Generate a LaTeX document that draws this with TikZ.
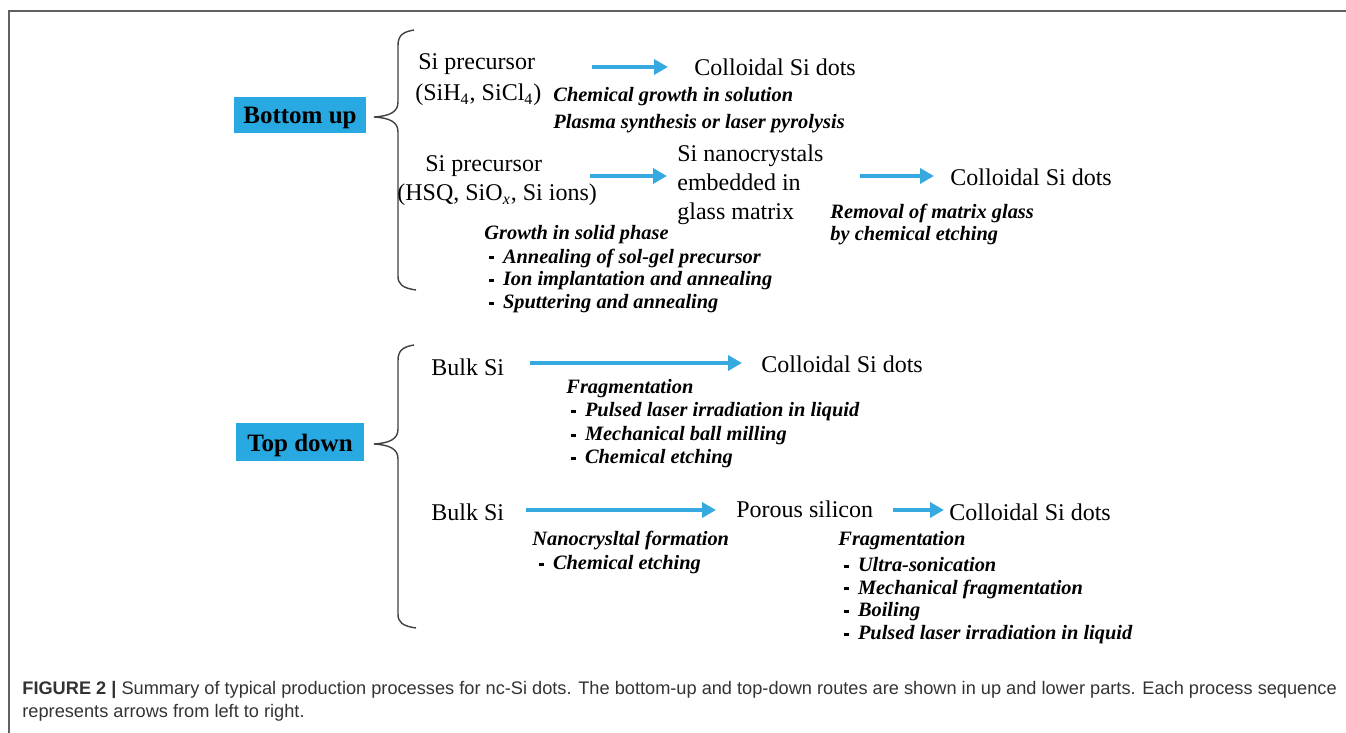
\documentclass[tikz,border=0pt]{standalone}
\usepackage{fontspec}
\setmainfont{Liberation Serif}
\newfontfamily\capfont{Liberation Sans}
\usetikzlibrary{arrows.meta}
\definecolor{boxblue}{HTML}{29A9E1}
\definecolor{arrblue}{HTML}{36A9E1}
\definecolor{framegray}{HTML}{606060}
\definecolor{captxt}{HTML}{333333}
\newcommand{\bul}{\makebox[6.8pt][l]{\rule[0.45ex]{2.4pt}{1.4pt}}}
\begin{document}
\begin{tikzpicture}[x=0.5pt,y=-0.5pt,
  main/.style={anchor=west,inner sep=0pt,font=\fontsize{12}{14}\selectfont},
  stack/.style={anchor=north west,inner sep=0pt,align=left,font=\fontsize{12}{14.5}\selectfont},
  note/.style={anchor=west,inner sep=0pt,font=\fontsize{10.2}{12}\selectfont\bfseries\itshape},
  catbox/.style={fill=boxblue,draw=none,minimum width=66pt,minimum height=18pt,inner sep=0pt,text height=9pt,text depth=0pt,font=\fontsize{12.5}{14}\selectfont\bfseries},
  arr/.style={draw=arrblue,line width=2.4pt,-{Triangle[length=7pt,width=7.5pt]}},
  brace/.style={draw=black!75,line width=0.7pt},
  captext/.style={anchor=west,inner sep=0pt,font=\capfont\fontsize{9.1}{10}\selectfont,text=captxt},
]
\useasboundingbox (0,0) rectangle (1346,733);
% frame
\draw[framegray,line width=0.8pt] (9,733) -- (9,11) -- (1346,11);

% category boxes
\node[catbox] (bu) at (300,115) {Bottom up};
\node[catbox,minimum width=64pt,minimum height=19pt] (td) at (300,442) {Top down};

% braces
\draw[brace] (414,30) .. controls (402,32) and (398,36) .. (398,46) -- (398,102)
  .. controls (398,112) and (390,116) .. (374,117)
  .. controls (390,118) and (398,122) .. (398,132) -- (398,276)
  .. controls (398,284) and (402,288) .. (416,290);
\draw[brace] (414,345) .. controls (402,347) and (398,351) .. (398,361) -- (398,429)
  .. controls (398,439) and (390,443) .. (374,444)
  .. controls (390,445) and (398,449) .. (398,459) -- (398,614)
  .. controls (398,622) and (402,626) .. (416,628);

% ---- Bottom up, route 1
\node[main] (sp1) at (418,64) {Si precursor};
\node[main] (sp1b) at (415,95) {(SiH\textsubscript{4}, SiCl\textsubscript{4})};
\node[main] (cd1) at (694,67) {Colloidal Si dots};
\coordinate (a1s) at (592,67);
\coordinate (a1e) at (668,67);
\draw[arr] (a1s) -- (a1e);
\node[note] (n1a) at (553,97) {Chemical growth in solution};
\node[note] (n1b) at (553,124) {Plasma synthesis or laser pyrolysis};

% ---- Bottom up, route 2
\node[main] (sp2) at (425,166) {Si precursor};
\node[main] (sp2b) at (397,195) {(HSQ, SiO\textsubscript{\textit{x}}, Si ions)};
\coordinate (a2s) at (590,176);
\coordinate (a2e) at (667,176);
\draw[arr] (a2s) -- (a2e);
\node[stack] (snc) at (677,144) {Si nanocrystals\\embedded in\\glass matrix};
\coordinate (a3s) at (860,176);
\coordinate (a3e) at (934,176);
\draw[arr] (a3s) -- (a3e);
\node[main] (cd2) at (950,177) {Colloidal Si dots};
\node[note] (n3a) at (830,213) {Removal of matrix glass};
\node[note] (n3b) at (830,236) {by chemical etching};
\node[note] (n2a) at (484,235) {Growth in solid phase};
\node[note] (n2b) at (489,258) {\bul Annealing of sol-gel precursor};
\node[note] (n2c) at (489,281) {\bul Ion implantation and annealing};
\node[note] (n2d) at (489,304) {\bul Sputtering and annealing};

% ---- Top down, route 1
\node[main] (bs1) at (431,367) {Bulk Si};
\coordinate (a4s) at (530,363);
\coordinate (a4e) at (742,363);
\draw[arr] (a4s) -- (a4e);
\node[main] (cd3) at (761,364) {Colloidal Si dots};
\node[note] (n4a) at (566,389) {Fragmentation};
\node[note] (n4b) at (571,412) {\bul Pulsed laser irradiation in liquid};
\node[note] (n4c) at (571,436) {\bul Mechanical ball milling};
\node[note] (n4d) at (571,459) {\bul Chemical etching};

% ---- Top down, route 2
\node[main] (bs2) at (431,512) {Bulk Si};
\coordinate (a5s) at (526,510);
\coordinate (a5e) at (716,510);
\draw[arr] (a5s) -- (a5e);
\node[main] (ps) at (736,509) {Porous silicon};
\coordinate (a6s) at (893,510);
\coordinate (a6e) at (944,510);
\draw[arr] (a6s) -- (a6e);
\node[main] (cd4) at (949,512) {Colloidal Si dots};
\node[note] (n5a) at (532,541) {Nanocrysltal formation};
\node[note] (n5b) at (539,565) {\bul Chemical etching};
\node[note] (n6a) at (838,541) {Fragmentation};
\node[note] (n6b) at (844,565) {\bul Ultra-sonication};
\node[note] (n6c) at (844,589) {\bul Mechanical fragmentation};
\node[note] (n6d) at (844,612) {\bul Boiling};
\node[note] (n6e) at (844,635) {\bul Pulsed laser irradiation in liquid};

% caption
\node[captext] (cap1) at (22,690) {\textbf{FIGURE 2 |} Summary of typical production processes for nc-Si dots. The bottom-up and top-down routes are shown in up and lower parts. Each process sequence};
\node[captext] (cap2) at (22,713) {represents arrows from left to right.};
\end{tikzpicture}
\end{document}
